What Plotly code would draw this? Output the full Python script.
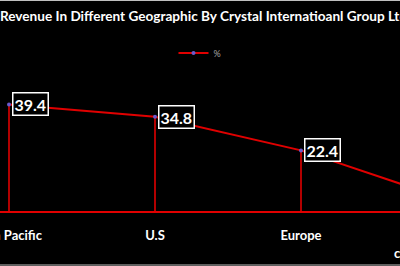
import plotly.graph_objects as go

categories = ["Asia Pacific", "U.S", "Europe", "Others"]
values = [39.4, 34.8, 22.4, 4.3]
series_name = "%"
title_text = "Revenue In Different Geographic By Crystal Internatioanl Group Ltd"
note_text = "company"

W, H = 400, 266
B = 55
PH = H - B  # plot height in px

RED = "#e00000"
FONT = "Lato"

fig = go.Figure()
fig.add_trace(go.Scatter(
    x=categories, y=values, name=series_name, mode="lines+markers",
    line=dict(color=RED, width=2),
    marker=dict(color="#6a5acd", size=4),
    error_y=dict(type="data", symmetric=False, array=[0]*len(values),
                 arrayminus=values, color=RED, thickness=1.6, width=0),
    cliponaxis=True,
))

for c, v in zip(categories, values):
    fig.add_annotation(
        x=c, y=v, xref="x", yref="y", text=f"{v}", showarrow=False,
        xanchor="left", yanchor="middle", xshift=3,
        font=dict(family=FONT, size=16, color="white", weight="bold"),
        bgcolor="black", bordercolor="white", borderwidth=1.5, borderpad=1,
    )

fig.add_annotation(
    x=392 / W, y=1 - 253 / PH, xref="paper", yref="paper", text=note_text,
    showarrow=False, xanchor="left", yanchor="middle",
    font=dict(family=FONT, size=13, color="white", weight="bold"),
)

# thin grey frame lines at top and bottom
for yp in (1 - 0.5 / PH, 1 - 265 / PH):
    fig.add_shape(type="line", xref="paper", yref="paper", x0=0, x1=1,
                  y0=yp, y1=yp, line=dict(color="#bfbfbf", width=1))

px_per_cat = 146.0
x0 = 9.0
px_per_unit = 2.706
fig.update_layout(
    width=W, height=H,
    margin=dict(l=0, r=0, t=0, b=B, autoexpand=False),
    paper_bgcolor="black", plot_bgcolor="black",
    title=dict(text=title_text, x=0, xref="container", xanchor="left",
               y=1 - 16 / H, yref="container", yanchor="middle",
               font=dict(family=FONT, size=13.6, color="white", weight="bold")),
    showlegend=True,
    legend=dict(orientation="h", x=0.5, xanchor="center", y=1 - 53 / PH,
                yanchor="middle", font=dict(family=FONT, size=9, color="#a6a6a6"),
                bgcolor="rgba(0,0,0,0)", itemwidth=30),
    xaxis=dict(
        type="category", categoryarray=categories,
        range=[-x0 / px_per_cat, (W - x0) / px_per_cat],
        showgrid=False, zeroline=False, showline=True, linecolor=RED, linewidth=1.6,
        ticks="outside", ticklen=12, tickcolor="rgba(0,0,0,0)",
        tickfont=dict(family=FONT, size=13, color="white", weight="bold"),
        automargin=False, fixedrange=True,
    ),
    yaxis=dict(
        range=[0, PH / px_per_unit], visible=False, showgrid=False,
        zeroline=False, automargin=False, fixedrange=True,
    ),
)

fig.write_html("out.html")
